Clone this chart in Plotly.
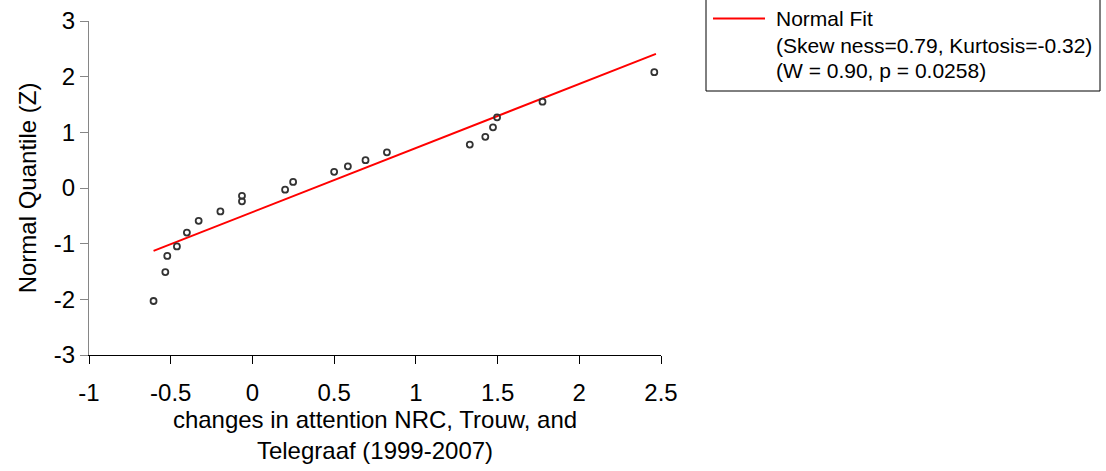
import plotly.graph_objects as go

# Data
obs_x = [-0.605, -0.533, -0.521, -0.462, -0.401, -0.329, -0.196, -0.064, -0.064,
         0.200, 0.249, 0.500, 0.584, 0.692, 0.823, 1.330, 1.425, 1.472, 1.497,
         1.775, 2.459]
quant_z = [-2.03, -1.51, -1.22, -1.05, -0.80, -0.59, -0.42, -0.24, -0.14,
           -0.03, 0.11, 0.29, 0.39, 0.50, 0.64, 0.78, 0.92, 1.09, 1.27,
           1.55, 2.08]
fit_x = [-0.605, 2.469]
fit_y = [-1.13, 2.41]

x_ticks = [-1, -0.5, 0, 0.5, 1, 1.5, 2, 2.5]
y_ticks = [-3, -2, -1, 0, 1, 2, 3]

legend_lines = ["Normal Fit",
                "(Skew ness=0.79, Kurtosis=-0.32)",
                "(W = 0.90, p = 0.0258)"]

FONT = "Liberation Sans, Arial, sans-serif"

fig = go.Figure()
fig.add_trace(go.Scatter(
    x=fit_x, y=fit_y, mode="lines",
    line=dict(color="#ff0000", width=2),
    showlegend=False, hoverinfo="skip"))
fig.add_trace(go.Scatter(
    x=obs_x, y=quant_z, mode="markers",
    marker=dict(symbol="circle-open", size=6, color="#333333",
                line=dict(width=1.8, color="#333333")),
    showlegend=False))

W, H = 1106, 471
ml, mr, mt, mb = 89, 445, 21, 116
pw, ph = W - ml - mr, H - mt - mb


def px(xp):
    return (xp - ml) / pw


def py(yp):
    return (H - mb - yp) / ph


shapes = [
    dict(type="rect", xref="paper", yref="paper",
         x0=px(706), x1=px(1100), y0=py(91), y1=py(-5),
         line=dict(color="#000000", width=1), fillcolor="rgba(0,0,0,0)"),
    dict(type="line", xref="paper", yref="paper",
         x0=px(713), x1=px(765), y0=py(18.5), y1=py(18.5),
         line=dict(color="#ff0000", width=2)),
]

annotations = []
for txt, yc in zip(legend_lines, [18, 45, 70]):
    annotations.append(dict(
        text=txt, xref="paper", yref="paper", x=px(774), y=py(yc),
        xanchor="left", yanchor="middle", showarrow=False,
        font=dict(family=FONT, size=21, color="#000000")))

fig.update_layout(
    width=W, height=H,
    margin=dict(l=ml, r=mr, t=mt, b=mb, autoexpand=False),
    paper_bgcolor="white", plot_bgcolor="white",
    font=dict(family=FONT, size=24, color="#000000"),
    shapes=shapes, annotations=annotations,
    xaxis=dict(
        range=[-1, 2.5], tickvals=x_ticks,
        ticktext=[f"{v:g}" for v in x_ticks],
        showgrid=False, zeroline=False, automargin=False,
        showline=True, linecolor="#000000", linewidth=1,
        ticks="outside", ticklen=8, tickcolor="#000000",
        tickfont=dict(size=24), ticklabelstandoff=8,
        title=dict(text="changes in attention NRC, Trouw, and<br>Telegraaf (1999-2007)",
                   font=dict(size=24), standoff=0),
    ),
    yaxis=dict(
        range=[-3, 3], tickvals=y_ticks,
        ticktext=[f"{v:g}" for v in y_ticks],
        showgrid=False, zeroline=False, automargin=False,
        showline=True, linecolor="#868686", linewidth=1,
        ticks="outside", ticklen=8, tickcolor="#868686",
        tickfont=dict(size=24),
        title=dict(text="Normal Quantile (Z)", font=dict(size=24), standoff=10),
    ),
)

fig.write_html("out.html",
               config={"displayModeBar": False},
               post_script="document.body.style.margin='0';document.body.style.padding='0';")
